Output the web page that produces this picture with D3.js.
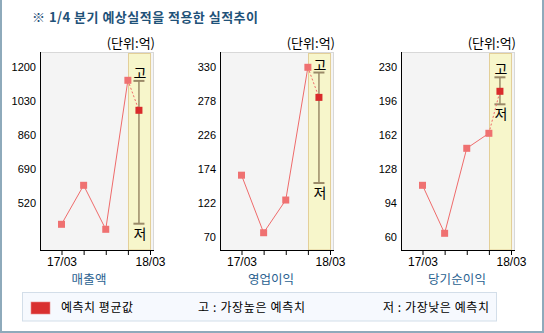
<!DOCTYPE html>
<html><head><meta charset="utf-8">
<script src="https://cdn.jsdelivr.net/npm/d3@7"></script>
<style>
html,body{margin:0;padding:0;background:#fff;}
svg{display:block;}
text{font-family:"Noto Sans CJK KR",sans-serif;}
.num{font-family:"Liberation Sans","DejaVu Sans",sans-serif;}
</style></head>
<body>
<svg id="c" width="544" height="333"></svg>
<script>
// ---- data ----
const title = "※ 1/4 분기 예상실적을 적용한 실적추이";
const unitLabel = "(단위:억)";
const categories = ["매출액", "영업이익", "당기순이익"];
const periodLabels = ["17/03", "", "", "", "18/03"];
const salesActual = [415, 610, 390, 1135];
const opActual = [165, 77, 127, 330];
const netActual = [112, 64, 149, 164];
const forecastAvg = [985, 284, 206];
const forecastHigh = [1132, 322, 220];
const forecastLow = [418, 153, 193];
const salesTicks = [1200, 1030, 860, 690, 520];
const opTicks = [330, 278, 226, 174, 122, 70];
const netTicks = [230, 196, 162, 128, 94, 60];
const legendLabels = ["예측치 평균값", "고 : 가장높은 예측치", "저 : 가장낮은 예측치"];
const highMark = "고", lowMark = "저";

const actuals = [salesActual, opActual, netActual];
const tickSets = [salesTicks, opTicks, netTicks];

// ---- layout ----
const svg = d3.select("#c");
const X0 = [40, 220, 401];
const catCx = [89, 271, 457];
const catW = [35, 46, 58];
const plotTop = 52, plotBottom = 250, plotW = 113;

// outer frame
svg.append("rect").attr("x", 1).attr("y", -5).attr("width", 542).attr("height", 337)
  .attr("fill", "none").attr("stroke", "#8eaabb").attr("stroke-width", 2);

svg.append("text").attr("x", 32).attr("y", 22).attr("font-size", 13).attr("font-weight", "bold")
  .attr("fill", "#1f5279").attr("textLength", 226).attr("lengthAdjust", "spacing").text(title);

categories.forEach((cat, i) => {
  const x0 = X0[i];
  const g = svg.append("g");
  const x = d3.scaleLinear().domain([0, 4]).range([x0 + 21.5, x0 + 110]);
  const t = tickSets[i];
  const step = t[0] - t[1];
  const y = d3.scaleLinear().domain([t[0], t[0] - 5 * step]).range([67.3, 237.3]);

  // plot bg
  g.append("rect").attr("x", x0 + 0.5).attr("y", plotTop + 0.5).attr("width", plotW).attr("height", plotBottom - plotTop)
    .attr("fill", "#f4f4f4").attr("stroke", "#d8d8d8");
  // forecast band
  g.append("rect").attr("x", Math.round(x(3)) + 0.5).attr("y", plotTop + 1.5)
    .attr("width", Math.round(x(4)) - Math.round(x(3))).attr("height", plotBottom - plotTop - 1.5)
    .attr("fill", "#f7f6cb").attr("stroke", "#e3cf98");

  // axes
  g.append("line").attr("x1", x0 + 0.5).attr("x2", x0 + 0.5).attr("y1", plotTop).attr("y2", plotBottom + 0.5)
    .attr("stroke", "#000");
  g.append("line").attr("x1", x0).attr("x2", x0 + plotW + 1).attr("y1", plotBottom + 0.5).attr("y2", plotBottom + 0.5)
    .attr("stroke", "#000");
  // x ticks
  const xt = g.append("g").attr("transform", `translate(0,${plotBottom})`)
    .call(d3.axisBottom(x).tickValues(d3.range(5)).tickSize(5).tickPadding(2).tickFormat(d => periodLabels[d]));
  xt.select(".domain").remove();
  xt.selectAll(".tick line").attr("stroke", "#000");
  xt.selectAll("text").attr("class", "num").attr("font-size", 12).attr("fill", "#000").attr("font-family", null);
  // y labels
  const yt = g.append("g").attr("transform", `translate(${x0},0)`)
    .call(d3.axisLeft(y).tickValues(t).tickSize(0).tickPadding(4).tickFormat(d3.format("d")));
  yt.select(".domain").remove();
  yt.selectAll("text").attr("class", "num").attr("font-size", 11).attr("fill", "#000").attr("font-family", null);

  // unit label
  g.append("text").attr("x", x0 + plotW + 2).attr("y", 48).attr("text-anchor", "end")
    .attr("font-size", 13).attr("fill", "#000").text(unitLabel);

  // category label
  g.append("text").attr("x", catCx[i]).attr("y", 284).attr("text-anchor", "middle")
    .attr("font-size", 12.5).attr("fill", "#2a6190")
    .attr("textLength", catW[i]).attr("lengthAdjust", "spacing").text(cat);

  const a = actuals[i];
  const fx = x(3.5);
  // hi-lo bar
  const hiY = y(forecastHigh[i]), loY = y(forecastLow[i]);
  g.append("line").attr("x1", fx).attr("x2", fx).attr("y1", hiY).attr("y2", loY)
    .attr("stroke", "#9a8a68").attr("stroke-width", 1.5);
  [hiY, loY].forEach(yy => g.append("line").attr("x1", fx - 5.5).attr("x2", fx + 5.5).attr("y1", yy).attr("y2", yy)
    .attr("stroke", "#9a8a68").attr("stroke-width", 2));
  g.append("text").attr("x", fx + 1).attr("y", hiY - 3).attr("text-anchor", "middle").attr("font-size", 14)
    .attr("fill", "#000").text(highMark);
  g.append("text").attr("x", fx + 1).attr("y", loY + 15).attr("text-anchor", "middle").attr("font-size", 14)
    .attr("fill", "#000").text(lowMark);

  // line
  const line = d3.line().x((d, j) => x(j)).y(d => y(d));
  g.append("path").datum(a).attr("d", line).attr("fill", "none").attr("stroke", "#ef6b6b").attr("stroke-width", 1);
  g.append("line").attr("x1", x(3)).attr("y1", y(a[3])).attr("x2", fx).attr("y2", y(forecastAvg[i]))
    .attr("stroke", "#ef6b6b").attr("stroke-width", 1).attr("stroke-dasharray", "2,2");
  g.selectAll(".pt").data(a).enter().append("rect").attr("class", "pt")
    .attr("x", (d, j) => x(j) - 3.5).attr("y", d => y(d) - 3.5).attr("width", 7).attr("height", 7)
    .attr("fill", "#ef7171");
  g.append("rect").attr("x", fx - 3.5).attr("y", y(forecastAvg[i]) - 3.5).attr("width", 7).attr("height", 7)
    .attr("fill", "#d92b2b");
});

// legend
const lg = svg.append("g");
lg.append("rect").attr("x", 22.5).attr("y", 292.5).attr("width", 474).attr("height", 28.5)
  .attr("fill", "#f6f9fe").attr("stroke", "#d3dee9");
lg.append("rect").attr("x", 31).attr("y", 302).attr("width", 19).attr("height", 12).attr("fill", "#d93030")
  .attr("stroke", "#ea8a8a").attr("stroke-width", 0.6);
const lx = [61, 198, 383];
const lw = [72, 107, 106];
legendLabels.forEach((s, i) => lg.append("text").attr("x", lx[i]).attr("y", 312).attr("font-size", 12)
  .attr("fill", "#000").attr("textLength", lw[i]).attr("lengthAdjust", "spacing").text(s));
</script>
</body></html>
